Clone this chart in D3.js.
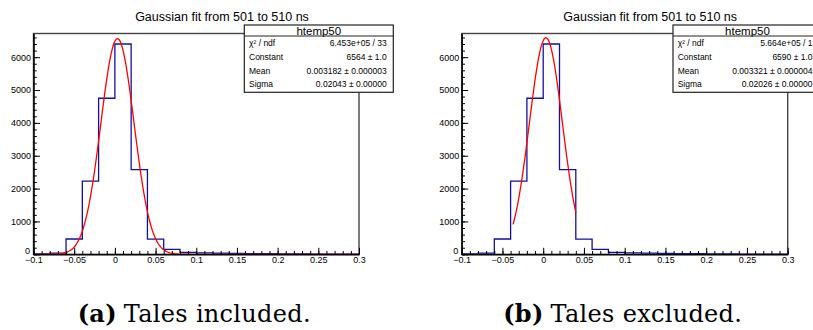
<!DOCTYPE html>
<html>
<head>
<meta charset="utf-8">
<script src="https://cdn.jsdelivr.net/npm/d3@7"></script>
<style>
  body { margin: 0; background: #fff; }
  svg { display: block; }
  .axis text { font-family: "Liberation Sans", Arial, sans-serif; font-size: 9px; fill: #000; }
  .axis path, .axis line { stroke: #000; stroke-width: 1; }
</style>
</head>
<body>
<div id="container"></div>
<script>
/* DATA */
// histogram bins (lower edges) and counts
const binLow = [-0.1, -0.08, -0.06, -0.04, -0.02, 0, 0.02, 0.04, 0.06, 0.08,
                0.1, 0.12, 0.14, 0.16, 0.18, 0.2, 0.22, 0.24, 0.26, 0.28];
const binWidth = 0.02;
const counts = [15, 35, 465, 2225, 4750, 6400, 2575, 460, 152, 60,
                45, 35, 30, 22, 16, 12, 10, 8, 6, 5];

const plotTitles = ["Gaussian fit from 501 to 510 ns", "Gaussian fit from 501 to 510 ns"];
const statNames = ["htemp50", "htemp50"];
const statLabels = ["χ² / ndf", "Constant", "Mean", "Sigma"];
const statValuesA = ["6.453e+05 / 33", "6564 ± 1.0", "0.003182 ± 0.000003", "0.02043 ± 0.00000"];
const statValuesB = ["5.664e+05 / 1", "6590 ± 1.0", "0.003321 ± 0.000004", "0.02026 ± 0.00000"];

// gaussian fit parameters and ranges
const fitConstant = [6564, 6590];
const fitMean = [0.003182, 0.003321];
const fitSigma = [0.02043, 0.02026];
const fitLow = [-0.1, -0.037];
const fitHigh = [0.3, 0.0401];

const captionLabels = ["(a)", "(b)"];
const captionTexts = ["Tales included.", "Tales excluded."];

const xDomain = [-0.1, 0.3];
const yDomain = [0, 6720];

/* LAYOUT */
const width = 813, height = 330;
const plotTop = 33.5, plotBottom = 254.3;
const frames = [[33.5, 359], [461.7, 787.7]];

const svg = d3.select("#container")
  .append("svg")
  .attr("width", width)
  .attr("height", height);

const statValues = [statValuesA, statValuesB];

frames.forEach((f, p) => {
  const x0 = f[0], x1 = f[1];
  const g = svg.append("g");

  const xScale = d3.scaleLinear().domain(xDomain).range([x0, x1]);
  const yScale = d3.scaleLinear().domain(yDomain).range([plotBottom, plotTop]);

  const clipId = "clip" + p;
  g.append("clipPath").attr("id", clipId)
    .append("rect")
    .attr("x", x0).attr("y", plotTop)
    .attr("width", x1 - x0).attr("height", plotBottom - plotTop);

  // frame
  g.append("rect")
    .attr("x", x0).attr("y", plotTop)
    .attr("width", x1 - x0).attr("height", plotBottom - plotTop)
    .attr("fill", "none")
    .attr("stroke", "#444")
    .attr("stroke-width", 1.4);

  // histogram outline
  const pts = binLow.map((b, i) => [b, counts[i]]);
  pts.push([binLow[binLow.length - 1] + binWidth, counts[counts.length - 1]]);
  const histLine = d3.line()
    .x(d => xScale(d[0]))
    .y(d => yScale(d[1]))
    .curve(d3.curveStepAfter);
  g.append("path")
    .attr("d", histLine(pts))
    .attr("fill", "none")
    .attr("stroke", "#10109c")
    .attr("stroke-width", 1.3)
    .attr("clip-path", `url(#${clipId})`);

  // fit function
  const n = 400;
  const fitPts = d3.range(n + 1).map(i => {
    const x = fitLow[p] + (fitHigh[p] - fitLow[p]) * i / n;
    const z = (x - fitMean[p]) / fitSigma[p];
    return [x, fitConstant[p] * Math.exp(-0.5 * z * z)];
  });
  g.append("path")
    .attr("d", d3.line().x(d => xScale(d[0])).y(d => yScale(d[1]))(fitPts))
    .attr("fill", "none")
    .attr("stroke", "#ff0000")
    .attr("stroke-width", 1.3)
    .attr("clip-path", `url(#${clipId})`);

  // axes: ticks pointing inward
  const yAxis = d3.axisLeft(yScale)
    .tickValues([0, 1000, 2000, 3000, 4000, 5000, 6000])
    .tickFormat(d3.format("d"))
    .tickSizeInner(-6.5).tickSizeOuter(0).tickPadding(2.5);
  const yMinor = d3.axisLeft(yScale)
    .tickValues(d3.range(0, 6720, 200))
    .tickFormat("")
    .tickSizeInner(-3.3).tickSizeOuter(0);
  g.append("g").attr("class", "axis").attr("transform", `translate(${x0},0)`).call(yMinor);
  const yG = g.append("g").attr("class", "axis").attr("transform", `translate(${x0},0)`).call(yAxis);
  // the "0" label sits a little higher, clear of the x labels
  yG.selectAll(".tick text").filter(d => d === 0).attr("dy", "-0.12em").attr("dx", "-1");

  const xAxis = d3.axisBottom(xScale)
    .tickValues([-0.1, -0.05, 0, 0.05, 0.1, 0.15, 0.2, 0.25, 0.3])
    .tickFormat(d => String(+d.toFixed(2)).replace("-", "\u2212"))
    .tickSizeInner(-6.5).tickSizeOuter(0).tickPadding(2.5);
  const xMinor = d3.axisBottom(xScale)
    .tickValues(d3.range(0, 41).map(i => -0.1 + i * 0.01))
    .tickFormat("")
    .tickSizeInner(-3.3).tickSizeOuter(0);
  g.append("g").attr("class", "axis").attr("transform", `translate(0,${plotBottom})`).call(xMinor);
  g.append("g").attr("class", "axis").attr("transform", `translate(0,${plotBottom})`).call(xAxis);

  // title
  g.append("text")
    .attr("x", x0 + 188.5)
    .attr("y", 21)
    .attr("text-anchor", "middle")
    .style("font-family", "Liberation Sans, Arial, sans-serif")
    .style("font-size", "12.5px")
    .text(plotTitles[p]);

  // stats box
  const bx = x1 - 114.7, bw = 149, by = 25, bh = 67.3;
  g.append("rect")
    .attr("x", bx).attr("y", by).attr("width", bw).attr("height", bh)
    .attr("fill", "#fff").attr("stroke", "#222").attr("stroke-width", 1.2);
  g.append("line")
    .attr("x1", bx).attr("x2", bx + bw).attr("y1", 36).attr("y2", 36)
    .attr("stroke", "#222").attr("stroke-width", 1);
  g.append("text")
    .attr("x", bx + bw / 2).attr("y", 34.5)
    .attr("text-anchor", "middle")
    .style("font-family", "Liberation Sans, Arial, sans-serif")
    .style("font-size", "11.5px")
    .text(statNames[p]);

  const rowY = [46, 60.3, 74, 87.3];
  const valueX = Math.min(bx + bw - 6.6, width - 0.5);
  statLabels.forEach((lab, i) => {
    g.append("text")
      .attr("x", bx + 4.7).attr("y", rowY[i])
      .style("font-family", "Liberation Sans, Arial, sans-serif")
      .style("font-size", "8.5px")
      .text(lab);
    g.append("text")
      .attr("x", valueX).attr("y", rowY[i])
      .attr("text-anchor", "end")
      .style("font-family", "Liberation Sans, Arial, sans-serif")
      .style("font-size", "8.5px")
      .text(statValues[p][i]);
  });

  // caption
  const cap = g.append("text")
    .attr("x", (x0 + x1) / 2 - 2)
    .attr("y", 322)
    .attr("text-anchor", "middle")
    .style("font-family", "DejaVu Serif, serif")
    .style("font-size", "24px")
    .style("letter-spacing", "0.3px");
  cap.append("tspan").style("font-weight", "bold").text(captionLabels[p]);
  cap.append("tspan").attr("dx", 7).text(captionTexts[p]);
});
</script>
</body>
</html>
